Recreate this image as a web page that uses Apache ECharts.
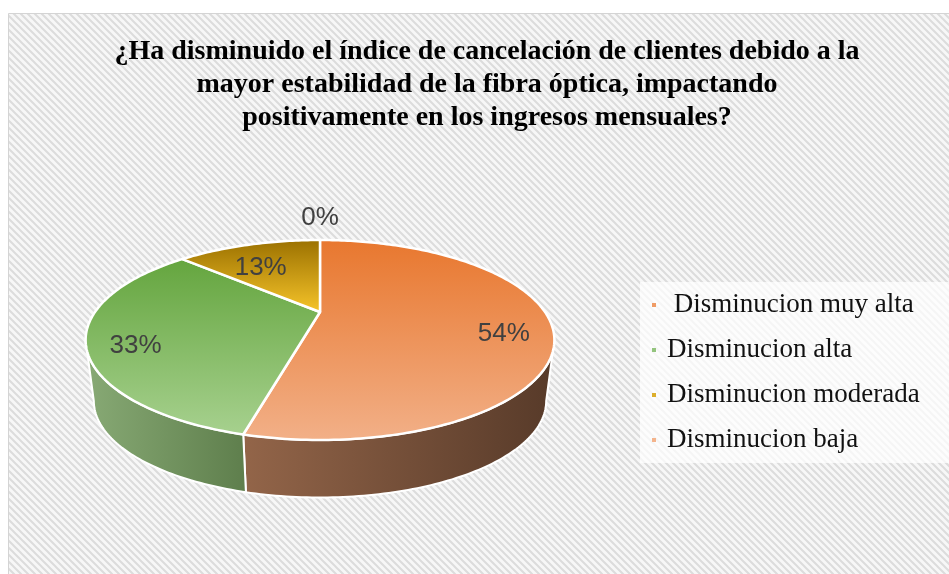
<!DOCTYPE html>
<html><head><meta charset="utf-8">
<script src="https://cdn.jsdelivr.net/npm/echarts@6/dist/echarts.min.js"></script>
<style>html,body{margin:0;padding:0;background:#fff}#c{width:949px;height:574px}</style>
</head><body><div id="c"></div>
<script>
// ---- data ----
const titleText = '¿Ha disminuido el índice de cancelación de clientes debido a la\nmayor estabilidad de la fibra óptica, impactando\npositivamente en los ingresos mensuales?';
const categories = [' Disminucion muy alta', 'Disminucion alta', 'Disminucion moderada', 'Disminucion baja'];
const values = [54, 33, 13, 0];

// ---- styles ----
const topColors = [['#e8772e', '#f2b088'], ['#64a53e', '#a7d18f'], ['#9a7000', '#f7c52a'], ['#f4b183', '#f8cbad']];
const sideColors = [['#936549', '#573a29'], ['#88aa75', '#5e7e4c'], ['#8a6a10', '#5a4508'], ['#a07050', '#6a4a30']];
const legendColors = ['#ef9c66', '#93c47d', '#dcae2c', '#f4b48c'];

// ---- 3D projection (perspective disk) ----
const G = { cx: 320, cy: 312, a: 225, b: 92.16, k: 0.28, depth: 62, bs: 0.965 };
function proj(t, r, bottom) {
  const X = r * Math.cos(t), Z = r * Math.sin(t);
  const den = 1 - G.k * Z;
  let sx = G.a * X / den, sy = G.b * Z / den;
  if (bottom) { sx *= G.bs; sy = sy * G.bs + G.depth; }
  return [G.cx + sx, G.cy + sy];
}
const tR = Math.asin(G.k), tL = Math.PI - tR;

function makeRender(i) {
  return function (params, api) {
    const total = values.reduce((s, v) => s + v, 0);
    const v = api.value(0);
    let before = 0;
    for (let j = 0; j < i; j++) before += values[j];
    const t1 = -Math.PI / 2 + 2 * Math.PI * before / total;
    const t2 = t1 + 2 * Math.PI * v / total;
    const deg = Math.PI / 180;
    const children = [];
    if (v > 0) {
      const pts = [proj(0, 0, false)];
      const n = Math.max(2, Math.ceil((t2 - t1) / deg));
      for (let s = 0; s <= n; s++) pts.push(proj(t1 + (t2 - t1) * s / n, 1, false));
      children.push({
        type: 'polygon', z2: 5, shape: { points: pts },
        style: {
          fill: { type: 'linear', x: 0, y: 0, x2: 0, y2: 1, colorStops: [{ offset: 0, color: topColors[i][0] }, { offset: 1, color: topColors[i][1] }] },
          stroke: '#ffffff', lineWidth: 2.5, lineJoin: 'round'
        }
      });
      const s1 = Math.max(t1, tR), s2 = Math.min(t2, tL);
      if (s2 > s1) {
        const m = Math.max(2, Math.ceil((s2 - s1) / deg));
        const sp = [];
        for (let s = 0; s <= m; s++) sp.push(proj(s1 + (s2 - s1) * s / m, 1, false));
        for (let s = m; s >= 0; s--) sp.push(proj(s1 + (s2 - s1) * s / m, 1, true));
        children.push({
          type: 'polygon', z2: 1, shape: { points: sp },
          style: {
            fill: { type: 'linear', x: 0, y: 0, x2: 1, y2: 0, colorStops: [{ offset: 0, color: sideColors[i][0] }, { offset: 1, color: sideColors[i][1] }] },
            stroke: '#ffffff', lineWidth: 2, lineJoin: 'round'
          }
        });
      }
    }
    const tm = (t1 + t2) / 2;
    let lp;
    if (v > 0) { lp = proj(tm, 0.8, false); lp[1] += 12; }
    else { lp = proj(tm, 1, false); lp[1] -= 22; }
    children.push({
      type: 'text', z2: 10, x: lp[0], y: lp[1],
      style: {
        text: Math.round(v / total * 100) + '%', fill: '#404040',
        font: '26px "Liberation Sans", Arial, sans-serif', align: 'center', verticalAlign: 'middle'
      }
    });
    return { type: 'group', children: children };
  };
}

// background stripe tile
const tile = document.createElement('canvas');
tile.width = 7; tile.height = 7;
const g = tile.getContext('2d');
g.fillStyle = '#f7f7f7'; g.fillRect(0, 0, 7, 7);
g.strokeStyle = '#dcdcdc'; g.lineWidth = 2;
g.beginPath();
g.moveTo(-1, -1); g.lineTo(8, 8);
g.moveTo(-1, 6); g.lineTo(1, 8);
g.moveTo(6, -1); g.lineTo(8, 1);
g.stroke();

const chart = echarts.init(document.getElementById('c'));
chart.setOption({
  animation: false,
  backgroundColor: '#ffffff',
  graphic: [{
    type: 'rect', z: -10, silent: true,
    shape: { x: 8.5, y: 13.5, width: 960, height: 580 },
    style: { fill: { image: tile, repeat: 'repeat' }, stroke: '#d4d4d4', lineWidth: 1 }
  }],
  title: {
    text: titleText, left: 487, top: 30, textAlign: 'center', padding: [5, 0, 5, 0],
    textStyle: { fontFamily: '"Liberation Serif", "Times New Roman", serif', fontWeight: 'bold', fontSize: 28, lineHeight: 33, color: '#000' }
  },
  legend: {
    orient: 'vertical', left: 640, top: 282, padding: [8, 30, 8, 12],
    backgroundColor: 'rgba(255,255,255,0.72)', icon: 'rect', itemWidth: 4, itemHeight: 4, itemGap: 15,
    selectedMode: false, data: categories,
    textStyle: { fontFamily: '"Liberation Serif", "Times New Roman", serif', fontSize: 27, lineHeight: 30, color: '#111', padding: [0, 0, 0, 6] }
  },
  series: categories.map((name, i) => ({
    type: 'custom', name: name, coordinateSystem: 'none', silent: true,
    itemStyle: { color: legendColors[i] },
    data: [values[i]],
    renderItem: makeRender(i)
  }))
});
</script></body></html>
